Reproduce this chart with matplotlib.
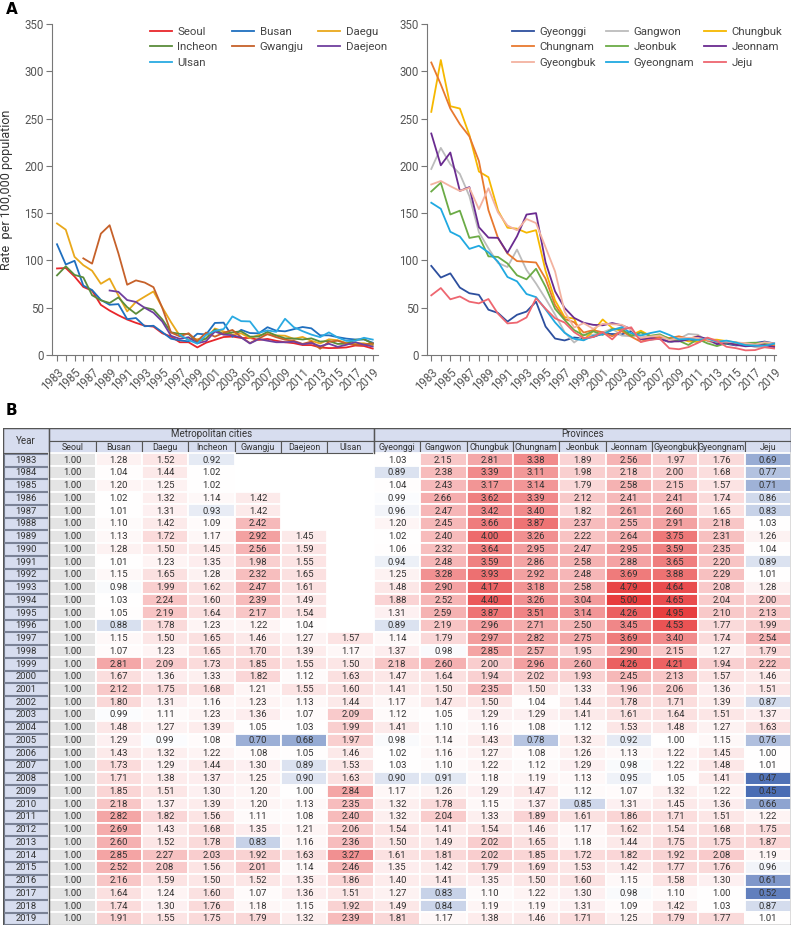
import numpy as np
import matplotlib
matplotlib.use("Agg")
import matplotlib.pyplot as plt
from matplotlib.patches import Rectangle
from matplotlib.colors import LinearSegmentedColormap, TwoSlopeNorm

plt.rcParams['font.family'] = ['Roboto', 'DejaVu Sans']

## years
years = np.arange(1983, 2020)
N = None

## panel A, rate per 100,000
seoul = [91.5, 92, 83, 72, 68, 53, 47, 42, 37.5, 34, 31, 30, 23, 19.5, 13.5, 13.5, 8, 13, 16, 19,
         19.5, 18, 18, 16, 17, 15, 13.5, 12.5, 10.5, 10.5, 8, 7.3, 7.5, 8, 10, 9.5, 6.8]
busan = [117.1, 95.7, 99.6, 73.4, 68.7, 58.3, 53.1, 53.8, 37.9, 39.1, 30.4, 30.9, 24.2, 17.2, 15.5, 14.4, 22.5, 21.7, 33.9, 34.2,
         19.3, 26.6, 23.2, 22.9, 29.4, 25.7, 25.0, 27.3, 29.6, 28.2, 20.8, 20.8, 18.9, 17.3, 16.4, 16.5, 13.0]
daegu = [139.1, 132.5, 103.8, 95.0, 89.1, 75.3, 80.8, 63.0, 46.1, 56.1, 61.7, 67.2, 50.4, 34.7, 20.3, 16.6, 16.7, 17.7, 28.0, 24.9,
         21.6, 22.9, 17.8, 21.1, 21.9, 20.7, 20.4, 17.1, 19.1, 15.0, 12.2, 16.6, 15.6, 12.7, 12.4, 12.4, 10.5]
incheon = [84.2, 93.8, 84.7, 82.1, 63.2, 57.8, 55.0, 60.9, 50.6, 43.5, 50.2, 48.0, 37.7, 24.0, 22.3, 22.3, 13.8, 17.3, 26.9, 22.0,
           24.0, 25.0, 19.4, 19.5, 24.5, 20.6, 17.6, 17.4, 16.4, 17.6, 14.2, 14.8, 11.7, 12.0, 16.0, 16.7, 11.9]
gwangju = [N, N, N, 102.2, 96.6, 128.3, 137.2, 107.5, 74.3, 78.9, 76.6, 71.7, 49.9, 23.8, 19.7, 23.0, 14.8, 23.7, 19.4, 23.4,
           26.5, 18.9, 12.6, 17.3, 22.1, 18.8, 16.2, 15.0, 11.7, 14.2, 6.6, 14.0, 15.1, 12.2, 10.7, 11.2, 12.2]
daejeon = [N, N, N, N, N, N, 68.2, 66.8, 58.1, 56.1, 49.9, 44.7, 35.4, 20.3, 17.1, 18.8, 12.4, 14.6, 24.8, 21.5,
           20.9, 18.5, 12.2, 16.8, 15.1, 13.5, 13.5, 14.1, 11.3, 12.7, 9.3, 11.9, 8.6, 10.8, 13.6, 10.9, 9.0]
ulsan = [N, N, N, N, N, N, N, N, N, N, N, N, N, N, 21.2, 15.8, 12.0, 21.2, 25.6, 27.4,
         40.8, 35.8, 35.5, 23.4, 26.0, 24.5, 38.3, 29.4, 25.2, 21.6, 18.9, 23.9, 18.5, 14.9, 15.1, 18.2, 16.3]

gyeonggi = [94.2, 81.9, 86.3, 71.3, 65.3, 63.6, 47.9, 44.5, 35.3, 42.5, 45.9, 56.4, 30.1, 17.4, 15.4, 18.5, 17.4, 19.1, 22.6, 22.2,
            21.8, 25.4, 17.6, 16.3, 17.5, 13.5, 15.8, 16.5, 13.9, 16.2, 12.0, 11.8, 10.1, 11.2, 12.7, 14.2, 12.3]
gangwon = [196.7, 219.0, 201.7, 191.5, 168.0, 129.9, 112.8, 97.4, 93.0, 111.5, 89.9, 75.6, 59.6, 42.7, 24.2, 13.2, 20.8, 21.3, 24.0, 27.9,
           20.5, 19.8, 20.5, 18.6, 18.7, 13.7, 17.0, 22.3, 21.4, 14.8, 11.9, 13.2, 10.7, 11.3, 8.3, 8.0, 8.0]
chungbuk = [257.1, 311.9, 263.1, 260.6, 232.6, 194.0, 188.0, 152.9, 134.6, 133.6, 129.3, 132.0, 89.0, 57.7, 40.1, 38.5, 16.0, 25.2, 37.6, 28.5,
            25.2, 20.9, 25.7, 20.3, 20.7, 17.7, 17.4, 14.4, 14.0, 16.2, 16.2, 14.7, 13.4, 10.8, 11.0, 11.3, 9.4]
chungnam = [309.3, 286.1, 260.6, 244.1, 231.2, 205.1, 153.2, 123.9, 107.3, 99.3, 98.6, 97.8, 80.7, 52.8, 38.1, 34.7, 23.7, 26.3, 24.0, 19.8,
            25.2, 19.4, 14.0, 17.3, 19.0, 17.9, 19.8, 17.1, 19.8, 15.3, 13.2, 13.5, 12.7, 12.0, 12.2, 11.3, 9.9]
jeonbuk = [172.9, 182.2, 148.6, 152.6, 123.8, 125.6, 104.3, 103.7, 96.8, 84.3, 80.0, 91.2, 72.2, 48.8, 37.1, 26.3, 20.8, 25.1, 21.3, 27.4,
           27.5, 20.2, 23.8, 20.2, 21.9, 17.0, 15.1, 10.6, 16.9, 12.3, 9.4, 12.6, 11.5, 12.8, 13.0, 12.4, 11.6]
jeonnam = [234.2, 200.6, 214.1, 173.5, 177.5, 135.2, 124.1, 123.9, 108.0, 125.5, 148.5, 150.0, 98.0, 67.3, 49.8, 39.2, 34.1, 31.9, 31.4, 33.8,
           31.4, 27.5, 16.6, 18.1, 16.7, 14.3, 14.4, 16.4, 19.5, 17.0, 11.5, 13.3, 10.7, 9.2, 9.8, 10.4, 8.5]
gyeongbuk = [180.3, 184.0, 178.5, 173.5, 176.8, 154.2, 176.3, 150.8, 136.9, 131.9, 143.8, 139.5, 113.9, 88.3, 45.9, 29.0, 33.7, 27.7, 33.0, 32.5,
             32.0, 26.6, 18.0, 19.5, 20.7, 15.8, 17.8, 18.1, 18.0, 16.2, 14.0, 14.0, 13.3, 12.6, 11.0, 13.5, 12.2]
gyeongnam = [161.0, 154.6, 130.3, 125.3, 112.2, 115.5, 108.6, 98.7, 82.5, 77.9, 64.5, 61.2, 48.3, 34.5, 23.5, 17.1, 15.5, 20.4, 21.8, 26.4,
             29.4, 22.9, 20.7, 23.2, 25.2, 21.2, 16.5, 17.0, 15.9, 17.6, 14.0, 15.2, 13.2, 10.4, 10.0, 9.8, 12.0]
jeju = [63.1, 70.8, 58.9, 61.9, 56.4, 54.6, 59.2, 43.7, 33.4, 34.3, 39.7, 60.0, 49.0, 38.8, 34.3, 24.2, 17.8, 19.0, 24.2, 16.5,
        26.7, 29.3, 13.7, 16.0, 17.2, 7.1, 6.1, 8.3, 12.8, 18.4, 15.0, 8.7, 7.2, 4.9, 5.2, 8.3, 6.9]

metro_names = ['Seoul', 'Busan', 'Daegu', 'Incheon', 'Gwangju', 'Daejeon', 'Ulsan']
metro_rates = [seoul, busan, daegu, incheon, gwangju, daejeon, ulsan]
metro_colors = ['#e8262b', '#1f6fbf', '#e9a81b', '#5b8c3b', '#c6612a', '#6f3f9e', '#2aaae2']

prov_names = ['Gyeonggi', 'Gangwon', 'Chungbuk', 'Chungnam', 'Jeonbuk', 'Jeonnam', 'Gyeongbuk', 'Gyeongnam', 'Jeju']
prov_rates = [gyeonggi, gangwon, chungbuk, chungnam, jeonbuk, jeonnam, gyeongbuk, gyeongnam, jeju]
prov_colors = ['#2d4f9e', '#bcbcbc', '#f6b800', '#e8792f', '#6bab46', '#6a2b90', '#f3b2a0', '#20a9e1', '#ee6670']

## panel B, rate ratio vs Seoul
r_seoul = [1.00] * 37
r_busan = [1.28, 1.04, 1.20, 1.02, 1.01, 1.10, 1.13, 1.28, 1.01, 1.15, 0.98, 1.03, 1.05, 0.88, 1.15, 1.07, 2.81, 1.67, 2.12, 1.80,
           0.99, 1.48, 1.29, 1.43, 1.73, 1.71, 1.85, 2.18, 2.82, 2.69, 2.60, 2.85, 2.52, 2.16, 1.64, 1.74, 1.91]
r_daegu = [1.52, 1.44, 1.25, 1.32, 1.31, 1.42, 1.72, 1.50, 1.23, 1.65, 1.99, 2.24, 2.19, 1.78, 1.50, 1.23, 2.09, 1.36, 1.75, 1.31,
           1.11, 1.27, 0.99, 1.32, 1.29, 1.38, 1.51, 1.37, 1.82, 1.43, 1.52, 2.27, 2.08, 1.59, 1.24, 1.30, 1.55]
r_incheon = [0.92, 1.02, 1.02, 1.14, 0.93, 1.09, 1.17, 1.45, 1.35, 1.28, 1.62, 1.60, 1.64, 1.23, 1.65, 1.65, 1.73, 1.33, 1.68, 1.16,
             1.23, 1.39, 1.08, 1.22, 1.44, 1.37, 1.30, 1.39, 1.56, 1.68, 1.78, 2.03, 1.56, 1.50, 1.60, 1.76, 1.75]
r_gwangju = [N, N, N, 1.42, 1.42, 2.42, 2.92, 2.56, 1.98, 2.32, 2.47, 2.39, 2.17, 1.22, 1.46, 1.70, 1.85, 1.82, 1.21, 1.23,
             1.36, 1.05, 0.70, 1.08, 1.30, 1.25, 1.20, 1.20, 1.11, 1.35, 0.83, 1.92, 2.01, 1.52, 1.07, 1.18, 1.79]
r_daejeon = [N, N, N, N, N, N, 1.45, 1.59, 1.55, 1.65, 1.61, 1.49, 1.54, 1.04, 1.27, 1.39, 1.55, 1.12, 1.55, 1.13,
             1.07, 1.03, 0.68, 1.05, 0.89, 0.90, 1.00, 1.13, 1.08, 1.21, 1.16, 1.63, 1.14, 1.35, 1.36, 1.15, 1.32]
r_ulsan = [N, N, N, N, N, N, N, N, N, N, N, N, N, N, 1.57, 1.17, 1.50, 1.63, 1.60, 1.44,
           2.09, 1.99, 1.97, 1.46, 1.53, 1.63, 2.84, 2.35, 2.40, 2.06, 2.36, 3.27, 2.46, 1.86, 1.51, 1.92, 2.39]
r_gyeonggi = [1.03, 0.89, 1.04, 0.99, 0.96, 1.20, 1.02, 1.06, 0.94, 1.25, 1.48, 1.88, 1.31, 0.89, 1.14, 1.37, 2.18, 1.47, 1.41, 1.17,
              1.12, 1.41, 0.98, 1.02, 1.03, 0.90, 1.17, 1.32, 1.32, 1.54, 1.50, 1.61, 1.35, 1.40, 1.27, 1.49, 1.81]
r_gangwon = [2.15, 2.38, 2.43, 2.66, 2.47, 2.45, 2.40, 2.32, 2.48, 3.28, 2.90, 2.52, 2.59, 2.19, 1.79, 0.98, 2.60, 1.64, 1.50, 1.47,
             1.05, 1.10, 1.14, 1.16, 1.10, 0.91, 1.26, 1.78, 2.04, 1.41, 1.49, 1.81, 1.42, 1.41, 0.83, 0.84, 1.17]
r_chungbuk = [2.81, 3.39, 3.17, 3.62, 3.42, 3.66, 4.00, 3.64, 3.59, 3.93, 4.17, 4.40, 3.87, 2.96, 2.97, 2.85, 2.00, 1.94, 2.35, 1.50,
              1.29, 1.16, 1.43, 1.27, 1.22, 1.18, 1.29, 1.15, 1.33, 1.54, 2.02, 2.02, 1.79, 1.35, 1.10, 1.19, 1.38]
r_chungnam = [3.38, 3.11, 3.14, 3.39, 3.40, 3.87, 3.26, 2.95, 2.86, 2.92, 3.18, 3.26, 3.51, 2.71, 2.82, 2.57, 2.96, 2.02, 1.50, 1.04,
              1.29, 1.08, 0.78, 1.08, 1.12, 1.19, 1.47, 1.37, 1.89, 1.46, 1.65, 1.85, 1.69, 1.50, 1.22, 1.19, 1.46]
r_jeonbuk = [1.89, 1.98, 1.79, 2.12, 1.82, 2.37, 2.22, 2.47, 2.58, 2.48, 2.58, 3.04, 3.14, 2.50, 2.75, 1.95, 2.60, 1.93, 1.33, 1.44,
             1.41, 1.12, 1.32, 1.26, 1.29, 1.13, 1.12, 0.85, 1.61, 1.17, 1.18, 1.72, 1.53, 1.60, 1.30, 1.31, 1.71]
r_jeonnam = [2.56, 2.18, 2.58, 2.41, 2.61, 2.55, 2.64, 2.95, 2.88, 3.69, 4.79, 5.00, 4.26, 3.45, 3.69, 2.90, 4.26, 2.45, 1.96, 1.78,
             1.61, 1.53, 0.92, 1.13, 0.98, 0.95, 1.07, 1.31, 1.86, 1.62, 1.44, 1.82, 1.42, 1.15, 0.98, 1.09, 1.25]
r_gyeongbuk = [1.97, 2.00, 2.15, 2.41, 2.60, 2.91, 3.75, 3.59, 3.65, 3.88, 4.64, 4.65, 4.95, 4.53, 3.40, 2.15, 4.21, 2.13, 2.06, 1.71,
               1.64, 1.48, 1.00, 1.22, 1.22, 1.05, 1.32, 1.45, 1.71, 1.54, 1.75, 1.92, 1.77, 1.58, 1.10, 1.42, 1.79]
r_gyeongnam = [1.76, 1.68, 1.57, 1.74, 1.65, 2.18, 2.31, 2.35, 2.20, 2.29, 2.08, 2.04, 2.10, 1.77, 1.74, 1.27, 1.94, 1.57, 1.36, 1.39,
               1.51, 1.27, 1.15, 1.45, 1.48, 1.41, 1.22, 1.36, 1.51, 1.68, 1.75, 2.08, 1.76, 1.30, 1.00, 1.03, 1.77]
r_jeju = [0.69, 0.77, 0.71, 0.86, 0.83, 1.03, 1.26, 1.04, 0.89, 1.01, 1.28, 2.00, 2.13, 1.99, 2.54, 1.79, 2.22, 1.46, 1.51, 0.87,
          1.37, 1.63, 0.76, 1.00, 1.01, 0.47, 0.45, 0.66, 1.22, 1.75, 1.87, 1.19, 0.96, 0.61, 0.52, 0.87, 1.01]

ratio_cols = [r_seoul, r_busan, r_daegu, r_incheon, r_gwangju, r_daejeon, r_ulsan,
              r_gyeonggi, r_gangwon, r_chungbuk, r_chungnam, r_jeonbuk, r_jeonnam, r_gyeongbuk, r_gyeongnam, r_jeju]
col_names = metro_names + prov_names

## figure
fig = plt.figure(figsize=(7.94, 9.27), dpi=100)
W, H = 794, 927

def px_axes(x0, y0, x1, y1):
    return fig.add_axes([x0 / W, 1 - y1 / H, (x1 - x0) / W, (y1 - y0) / H])

tick_col = '#555555'

def style_line_axes(ax, xmin, xmax):
    ax.set_xlim(xmin, xmax)
    ax.set_ylim(0, 350)
    ax.set_yticks(np.arange(0, 351, 50))
    ax.set_xticks(years, minor=True)
    ax.set_xticks(years[::2])
    ax.set_xticklabels([str(y) for y in years[::2]], rotation=45, ha='right', rotation_mode='anchor')
    for s in ['top', 'right']:
        ax.spines[s].set_visible(False)
    for s in ['left', 'bottom']:
        ax.spines[s].set_color('#777777')
        ax.spines[s].set_linewidth(0.8)
    ax.tick_params(axis='both', which='both', colors='#777777', labelcolor=tick_col, labelsize=8.3, width=0.8)
    ax.tick_params(axis='x', which='both', length=4)
    ax.tick_params(axis='y', length=4, pad=2)

def row_legend(ax, order, anchor, spacing):
    # matplotlib fills legend columns first; reorder so rows read left to right
    h, l = ax.get_legend_handles_labels()
    ax.legend([h[k] for k in order], [l[k] for k in order], loc='upper left', bbox_to_anchor=anchor,
              ncol=3, frameon=False, fontsize=8.2, handlelength=1.9, columnspacing=spacing,
              labelspacing=0.45, handletextpad=0.5, labelcolor='#444444', borderaxespad=0, borderpad=0)

axA1 = px_axes(52, 24, 378, 355)
for name, vals, c in zip(metro_names, metro_rates, metro_colors):
    axA1.plot(years, np.array(vals, dtype=float), color=c, lw=1.3, label=name)
style_line_axes(axA1, 1982.43, 2019.6)
axA1.set_ylabel('Rate  per 100,000 population', fontsize=9, color='#333333')
axA1.yaxis.set_label_coords((13 - 52) / 326, 0.5)
row_legend(axA1, [0, 3, 6, 1, 4, 2, 5], ((150 - 52) / 326, 0.99), 1.3)

axA2 = px_axes(427, 24, 776, 355)
for name, vals, c in zip(prov_names, prov_rates, prov_colors):
    axA2.plot(years, np.array(vals, dtype=float), color=c, lw=1.3, label=name)
style_line_axes(axA2, 1982.55, 2019.2)
row_legend(axA2, [0, 3, 6, 1, 4, 7, 2, 5, 8], ((512 - 427) / 349, 0.99), 0.9)

fig.text(6 / W, 1 - 14 / H, 'A', fontsize=11, fontweight='bold', family='DejaVu Sans')
fig.text(6 / W, 1 - 415 / H, 'B', fontsize=11, fontweight='bold', family='DejaVu Sans')

## table
cmap = LinearSegmentedColormap.from_list('rb', ['#4a6db4', '#ffffff', '#e73c3d'])
norm = TwoSlopeNorm(vmin=0.45, vcenter=1.0, vmax=5.0)
hdr_col = '#d7ddef'
line_col = '#555555'

axT = px_axes(3, 428, 791, 925)
ncol = 1 + len(col_names)
nrow = 2 + len(years)
axT.set_xlim(0, ncol)
axT.set_ylim(nrow, 0)
axT.axis('off')
tfont = ['Roboto', 'DejaVu Sans']
txt_col = '#333333'

# header
axT.add_patch(Rectangle((0, 0), 1, 2, facecolor=hdr_col, edgecolor=line_col, lw=0.8))
axT.text(0.5, 1, 'Year', ha='center', va='center', fontsize=7, family=tfont, color=txt_col)
axT.add_patch(Rectangle((1, 0), len(metro_names), 1, facecolor=hdr_col, edgecolor=line_col, lw=0.8))
axT.text(1 + len(metro_names) / 2, 0.5, 'Metropolitan cities', ha='center', va='center', fontsize=7, family=tfont, color=txt_col)
axT.add_patch(Rectangle((1 + len(metro_names), 0), len(prov_names), 1, facecolor=hdr_col, edgecolor=line_col, lw=0.8))
axT.text(1 + len(metro_names) + len(prov_names) / 2, 0.5, 'Provinces', ha='center', va='center', fontsize=7, family=tfont, color=txt_col)
for j, name in enumerate(col_names):
    axT.add_patch(Rectangle((1 + j, 1), 1, 1, facecolor=hdr_col, edgecolor=line_col, lw=0.8))
    axT.text(1.5 + j, 1.5, name, ha='center', va='center', fontsize=6.4, family=tfont, color=txt_col)

# body
for i, yr in enumerate(years):
    r = 2 + i
    axT.add_patch(Rectangle((0.02, r + 0.04), 0.96, 0.92, facecolor=hdr_col, edgecolor='#7a8296', lw=0.8))
    axT.text(0.5, r + 0.52, str(yr), ha='center', va='center', fontsize=6.8, family=tfont, color=txt_col)
    for j, col in enumerate(ratio_cols):
        v = col[i]
        if v is None:
            continue
        fc = '#e4e4e4' if j == 0 else cmap(norm(v))
        axT.add_patch(Rectangle((1 + j, r), 1, 1, facecolor=fc, edgecolor='white', lw=1.3))
        axT.text(1.5 + j, r + 0.52, f'{v:.2f}', ha='center', va='center', fontsize=6.8, family=tfont, color=txt_col)

axT.add_patch(Rectangle((0, 0), ncol, nrow, facecolor='none', edgecolor=line_col, lw=1.0))
axT.plot([1, 1], [0, nrow], color=line_col, lw=1.0)
axT.plot([1 + len(metro_names)] * 2, [0, 2], color=line_col, lw=1.0)

plt.savefig('out.png', dpi=100)
